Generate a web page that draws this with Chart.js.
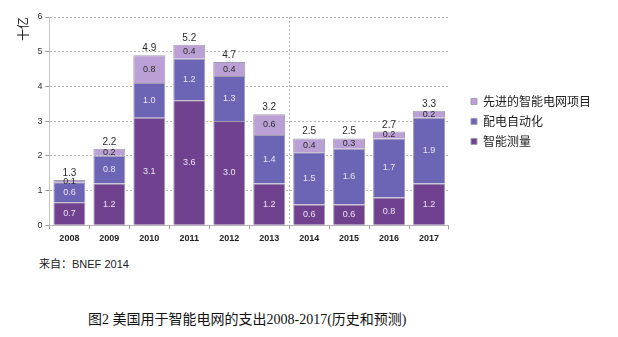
<!DOCTYPE html>
<html>
<head>
<meta charset="utf-8">
<script src="https://cdn.jsdelivr.net/npm/chart.js@4/dist/chart.umd.min.js"></script>
<style>
  html, body { margin: 0; padding: 0; background: #fff; }
  body { width: 618px; height: 337px; position: relative; overflow: hidden; }
  #wrap { position: absolute; left: 0; top: 0; width: 618px; height: 250px; }
  #source { position: absolute; left: 39px; top: 255px; font: 11px "Liberation Sans", "Noto Sans CJK SC", sans-serif; color: #222; }
  #caption { position: absolute; left: 88px; top: 308px; font: 14px "Liberation Serif", "Noto Sans CJK SC", serif; color: #111; white-space: nowrap; }
</style>
</head>
<body>
<div id="wrap"><canvas id="c"></canvas></div>
<div id="source">来自：BNEF 2014</div>
<div id="caption">图2 美国用于智能电网的支出2008-2017(历史和预测)</div>
<script>
// Years on the x axis
const years = ['2008', '2009', '2010', '2011', '2012', '2013', '2014', '2015', '2016', '2017'];
// Spending by segment, billion USD (十亿)
const smartMetering = [0.66, 1.2, 3.1, 3.6, 3.0, 1.2, 0.6, 0.6, 0.8, 1.2];
const distributionAutomation = [0.58, 0.8, 1.0, 1.2, 1.3, 1.4, 1.5, 1.6, 1.7, 1.9];
const advancedProjects = [0.06, 0.2, 0.8, 0.4, 0.4, 0.6, 0.4, 0.3, 0.2, 0.2];
// Y axis ticks
const yTicks = [0, 1, 2, 3, 4, 5, 6];

const labelColors = ['#ece6f4', '#ece6f4', '#2a2a2a'];

// Draws the segment values inside the bars and the stack totals above them
const valueLabels = {
  id: 'valueLabels',
  afterDatasetsDraw(chart) {
    const ctx = chart.ctx;
    ctx.save();
    ctx.textAlign = 'center';
    ctx.textBaseline = 'middle';
    ctx.font = '9px "Liberation Sans", Arial, sans-serif';
    chart.data.datasets.forEach((ds, i) => {
      const meta = chart.getDatasetMeta(i);
      meta.data.forEach((bar, j) => {
        const yc = (bar.y + bar.base) / 2;
        ctx.fillStyle = labelColors[i];
        ctx.fillText(ds.data[j].toFixed(1), bar.x, yc);
      });
    });
    const top = chart.getDatasetMeta(chart.data.datasets.length - 1);
    ctx.font = '10px "Liberation Sans", Arial, sans-serif';
    ctx.fillStyle = '#2a2a2a';
    ctx.textBaseline = 'alphabetic';
    top.data.forEach((bar, j) => {
      const total = chart.data.datasets.reduce((s, ds) => s + ds.data[j], 0);
      ctx.fillText(total.toFixed(1), bar.x, bar.y - 4);
    });
    ctx.restore();
  }
};

new Chart(document.getElementById('c'), {
  type: 'bar',
  data: {
    labels: years,
    datasets: [
      { label: '智能测量', data: smartMetering, backgroundColor: '#6f418e' },
      { label: '配电自动化', data: distributionAutomation, backgroundColor: '#6c64b4' },
      { label: '先进的智能电网项目', data: advancedProjects, backgroundColor: '#baa0d4' }
    ]
  },
  options: {
    responsive: true,
    maintainAspectRatio: false,
    animation: false,
    datasets: {
      bar: {
        borderColor: '#a09dad',
        borderWidth: 1,
        barPercentage: 0.8,
        categoryPercentage: 1.0
      }
    },
    layout: { padding: { left: 16, top: 17, right: 17, bottom: 2 } },
    plugins: {
      legend: {
        position: 'right',
        align: 'start',
        reverse: true,
        title: {
          display: true,
          text: '',
          padding: { top: 56, bottom: 0 },
          font: { size: 12 }
        },
        labels: {
          boxWidth: 6,
          boxHeight: 6,
          padding: 8,
          color: '#222',
          font: { size: 12, family: '"Noto Sans CJK SC", sans-serif' }
        }
      },
      tooltip: { enabled: false }
    },
    scales: {
      x: {
        stacked: true,
        grid: {
          offset: true,
          drawOnChartArea: true,
          color: (c) => (c.index === 6 ? '#b4b4b4' : 'rgba(0,0,0,0)'),
          tickColor: '#9a9a9a',
          tickLength: 4,
          tickBorderDash: [],
          lineWidth: 1
        },
        border: { display: true, color: '#b4b4b4', dash: [2, 2] },
        ticks: {
          color: '#222',
          padding: 4,
          font: { size: 9, weight: 'bold', family: '"Liberation Sans", Arial, sans-serif' }
        }
      },
      y: {
        stacked: true,
        min: 0,
        max: 6,
        afterBuildTicks: (axis) => { axis.ticks = yTicks.map(v => ({ value: v })); },
        grid: {
          color: '#b8b8b8',
          tickColor: '#9a9a9a',
          tickLength: 4,
          lineWidth: 1
        },
        border: { display: true, color: '#c4c4c4', dash: [2, 2] },
        ticks: {
          color: '#333',
          padding: 3,
          font: { size: 9, family: '"Liberation Sans", Arial, sans-serif' }
        },
        title: {
          display: true,
          text: '十亿',
          align: 'end',
          color: '#111',
          padding: { top: 0, bottom: 4 },
          font: { size: 12, family: '"Noto Sans CJK SC", sans-serif' }
        }
      },
      // hidden right-hand axis that keeps a gap between the plot and the legend
      gap: {
        type: 'linear',
        position: 'right',
        display: false,
        min: 0,
        max: 6,
        afterFit: (axis) => { axis.width = 14; }
      }
    }
  },
  plugins: [valueLabels]
});
</script>
</body>
</html>
